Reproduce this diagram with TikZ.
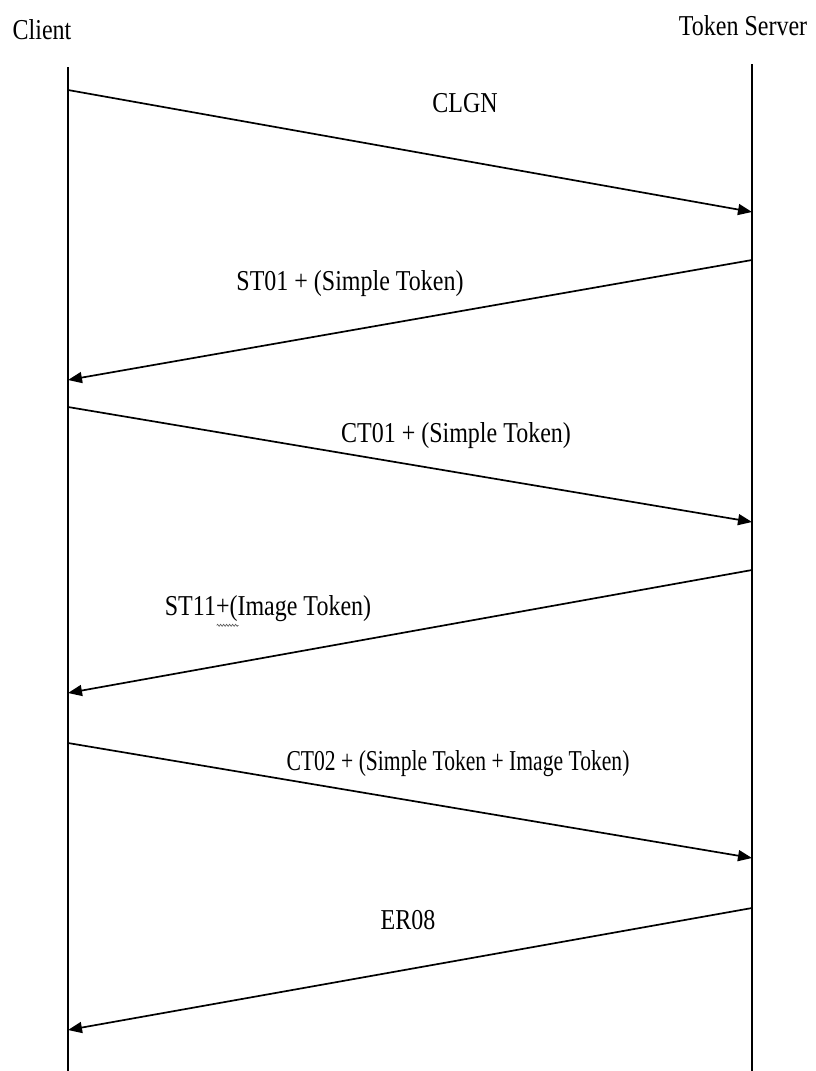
\documentclass[tikz,border=0pt]{standalone}
\usepackage{fontspec}
\setmainfont{Liberation Serif}
\usetikzlibrary{arrows.meta,decorations.pathmorphing}
\begin{document}
\begin{tikzpicture}[x=1pt,y=-1pt,
  life/.style={line width=1.5pt},
  msg/.style={line width=1.7pt,-{Triangle[length=14pt,width=11pt]}},
  lbl/.style={font=\fontsize{24}{28}\selectfont, inner sep=0pt},
  squig/.style={line width=0.6pt, black!70, decorate, decoration={snake, amplitude=1pt, segment length=3pt}}
]
\useasboundingbox (0,0) rectangle (815,1071);
% actors
\node[lbl] (client) at (42,30) {\scalebox{1}[1.2]{Client}};
\node[lbl] (server) at (743,26) {\scalebox{1}[1.2]{Token Server}};
% lifelines
\coordinate (cT) at (68,67);
\coordinate (cB) at (68,1071);
\coordinate (sT) at (752,64);
\coordinate (sB) at (752,1071);
\draw[life] (cT) -- (cB);
\draw[life] (sT) -- (sB);
% message end points
\coordinate (c1) at (68,90);   \coordinate (s1) at (752,212);
\coordinate (s2) at (752,260); \coordinate (c2) at (68,380);
\coordinate (c3) at (68,407);  \coordinate (s3) at (752,522);
\coordinate (s4) at (752,570); \coordinate (c4) at (68,693);
\coordinate (c5) at (68,743);  \coordinate (s5) at (752,858);
\coordinate (s6) at (752,908); \coordinate (c6) at (68,1030);
\draw[msg] (c1) -- (s1);
\draw[msg] (s2) -- (c2);
\draw[msg] (c3) -- (s3);
\draw[msg] (s4) -- (c4);
\draw[msg] (c5) -- (s5);
\draw[msg] (s6) -- (c6);
% labels
\node[lbl] (m1) at (465,103) {\scalebox{1}[1.2]{CLGN}};
\node[lbl] (m2) at (350,284) {\scalebox{1}[1.2]{ST01 + (Simple Token)}};
\node[lbl] (m3) at (456,436) {\scalebox{1}[1.2]{CT01 + (Simple Token)}};
\node[lbl] (m4) at (268,609) {\scalebox{1}[1.2]{ST11+(Image Token)}};
\node[lbl] (m5) at (458,764) {\scalebox{0.9}[1.2]{CT02 + (Simple Token + Image Token)}};
\node[lbl] (m6) at (408,920) {\scalebox{1}[1.2]{ER08}};
\draw[squig] ([xshift=52pt,yshift=-3pt]m4.south west) -- ([xshift=74pt,yshift=-3pt]m4.south west);
\end{tikzpicture}
\end{document}
